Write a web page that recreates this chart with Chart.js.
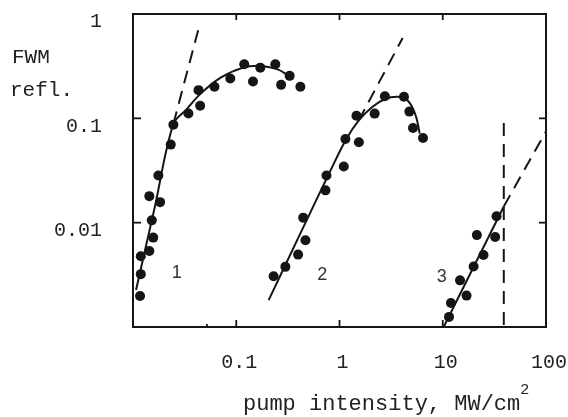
<!DOCTYPE html>
<html><head><meta charset="utf-8">
<script src="https://cdn.jsdelivr.net/npm/chart.js@4.4.1/dist/chart.umd.min.js"></script>
<style>html,body{margin:0;padding:0;background:#fff;}</style>
</head><body>
<canvas id="c" width="568" height="417"></canvas>
<script>
// ---- data ----
const xTickValues = [0.1, 1, 10, 100];
const xTickLabels = ['0.1', '1', '10', '100'];
const yTickValues = [0.01, 0.1, 1];
const yTickLabels = ['0.01', '0.1', '1'];

const s1X = [0.0117,0.0119,0.0119,0.0144,0.0157,0.0152,0.0144,0.0183,0.0176,0.0232,0.0246,0.0344,0.0447,0.0431,0.0615,0.0875,0.1195,0.1452,0.171,0.239,0.272,0.329,0.418];
const s1Y = [0.00198,0.00321,0.00477,0.00535,0.00719,0.01052,0.01795,0.01573,0.0283,0.056,0.0869,0.1114,0.1319,0.1863,0.2004,0.2405,0.330,0.225,0.306,0.330,0.2094,0.2553,0.2004];
const fit1X = [0.0107,0.01625,0.0246,0.0332,0.0447,0.070,0.1169,0.171,0.2485,0.3126,0.350];
const fit1Y = [0.00226,0.0141,0.0883,0.1227,0.1706,0.2443,0.306,0.318,0.296,0.261,0.239];
const dash1X = [0.0246, 0.043];
const dash1Y = [0.0883, 0.713];

const s2X = [0.230,0.299,0.397,0.468,0.445,0.731,0.748,1.10,1.14,1.54,1.46,2.19,2.75,4.21,4.75,5.15,6.44];
const s2Y = [0.00307,0.00377,0.00494,0.00678,0.01117,0.0204,0.0283,0.0345,0.0634,0.0589,0.106,0.111,0.163,0.161,0.116,0.0807,0.0649];
const fit2X = [0.206,0.418,0.818,1.14,1.53,2.09,2.80,3.66,4.47,5.11,5.59,5.98];
const fit2Y = [0.00181,0.0079,0.0316,0.0611,0.0949,0.129,0.154,0.161,0.151,0.126,0.099,0.0713];
const dash2X = [1.53, 4.09];
const dash2Y = [0.0949, 0.589];

const s3X = [11.5,12.0,14.7,17.0,19.9,21.4,24.8,32.2,33.2];
const s3Y = [0.00125,0.0017,0.0028,0.0020,0.0038,0.0076,0.0049,0.0073,0.0115];
const fit3X = [10.2, 39];
const fit3Y = [0.001, 0.0143];
const dash3X = [39, 100];
const dash3Y = [0.0143, 0.075];
const vlineX = [39, 39];
const vlineY = [0.09, 0.001];

const curveNames = ['1', '2', '3'];
const curveNameX = [0.0266, 0.679, 9.77];
const curveNameY = [0.00326, 0.00314, 0.00302];

const xTitle = 'pump intensity, MW/cm';
const xTitleSup = '2';
const yTitle = ['FWM', 'refl.'];

// ---- helpers ----
const pts = (xs, ys) => xs.map((v, i) => ({x: v, y: ys[i]}));
const INK = '#151515';
const MONO = '"Liberation Mono", "DejaVu Sans Mono", monospace';

const scatter = (xs, ys) => ({
  data: pts(xs, ys), showLine: false, pointRadius: 5, pointHoverRadius: 5,
  pointBackgroundColor: INK, pointBorderColor: INK, pointBorderWidth: 0
});
const line = (xs, ys, dashed, tension) => ({
  data: pts(xs, ys), showLine: true, pointRadius: 0, borderColor: INK,
  borderWidth: 2, borderDash: dashed ? [13, 8] : [], tension: tension || 0,
  fill: false
});

const framePlugin = {
  id: 'frame',
  afterDraw(chart) {
    const {ctx, chartArea: a, scales: {x, y}} = chart;
    ctx.save();
    ctx.strokeStyle = INK; ctx.lineWidth = 2;
    ctx.strokeRect(a.left, a.top, a.right - a.left, a.bottom - a.top);
    ctx.lineWidth = 1.8;
    [0.1, 1, 10].forEach(v => {
      const px = x.getPixelForValue(v);
      ctx.beginPath(); ctx.moveTo(px, a.bottom); ctx.lineTo(px, a.bottom - 7); ctx.stroke();
      ctx.beginPath(); ctx.moveTo(px, a.top); ctx.lineTo(px, a.top + 6); ctx.stroke();
    });
    const mpx = x.getPixelForValue(0.052);
    ctx.beginPath(); ctx.moveTo(mpx, a.bottom); ctx.lineTo(mpx, a.bottom - 3); ctx.stroke();
    [0.01, 0.1].forEach(v => {
      const py = y.getPixelForValue(v);
      ctx.beginPath(); ctx.moveTo(a.left, py); ctx.lineTo(a.left + 8, py); ctx.stroke();
      ctx.beginPath(); ctx.moveTo(a.right, py); ctx.lineTo(a.right - 7, py); ctx.stroke();
    });
    // curve numbers
    ctx.fillStyle = '#333';
    ctx.font = '18px "Liberation Sans", Arial, sans-serif';
    ctx.textAlign = 'center'; ctx.textBaseline = 'middle';
    curveNames.forEach((t, i) => {
      ctx.fillText(t, x.getPixelForValue(curveNameX[i]), y.getPixelForValue(curveNameY[i]));
    });
    // axis titles
    ctx.fillStyle = '#222';
    ctx.textAlign = 'left'; ctx.textBaseline = 'alphabetic';
    ctx.font = '21px ' + MONO;
    ctx.fillText(yTitle[0], 12, 63);
    ctx.fillText(yTitle[1], 10, 96);
    ctx.font = '22px ' + MONO;
    ctx.fillText(xTitle, 243, 410);
    const w = ctx.measureText(xTitle).width;
    ctx.font = '15px ' + MONO;
    ctx.fillText(xTitleSup, 243 + w, 394);
    ctx.restore();
  }
};

new Chart(document.getElementById('c'), {
  type: 'scatter',
  data: {
    datasets: [
      line(fit1X, fit1Y, false, 0.35),
      line(dash1X, dash1Y, true),
      line(fit2X, fit2Y, false, 0.35),
      line(dash2X, dash2Y, true),
      line(fit3X, fit3Y, false),
      line(dash3X, dash3Y, true),
      line(vlineX, vlineY, true),
      scatter(s1X, s1Y),
      scatter(s2X, s2Y),
      scatter(s3X, s3Y)
    ]
  },
  options: {
    responsive: false,
    animation: false,
    events: [],
    layout: {padding: {left: 0, right: 22, top: 14, bottom: 0}},
    plugins: {legend: {display: false}, tooltip: {enabled: false}},
    scales: {
      x: {
        type: 'logarithmic', min: 0.01, max: 100,
        grid: {display: false, drawTicks: false},
        border: {display: false},
        afterBuildTicks: s => { s.ticks = xTickValues.map(v => ({value: v})); },
        afterFit: s => { s.height = 90; s.paddingLeft = 0; s.paddingRight = 0; },
        ticks: {
          autoSkip: false, maxRotation: 0, padding: 24, labelOffset: 3,
          color: '#222', font: {family: MONO, size: 20},
          callback: v => { const i = xTickValues.indexOf(v); return i >= 0 ? xTickLabels[i] : ''; }
        }
      },
      y: {
        type: 'logarithmic', min: 0.001, max: 1,
        grid: {display: false, drawTicks: false},
        border: {display: false},
        afterBuildTicks: s => { s.ticks = yTickValues.map(v => ({value: v})); },
        afterFit: s => { s.width = 133; s.paddingTop = 0; s.paddingBottom = 0; },
        ticks: {
          autoSkip: false, padding: 31, labelOffset: 8,
          color: '#222', font: {family: MONO, size: 20},
          callback: v => { const i = yTickValues.indexOf(v); return i >= 0 ? yTickLabels[i] : ''; }
        }
      }
    }
  },
  plugins: [framePlugin]
});
</script>
</body></html>
